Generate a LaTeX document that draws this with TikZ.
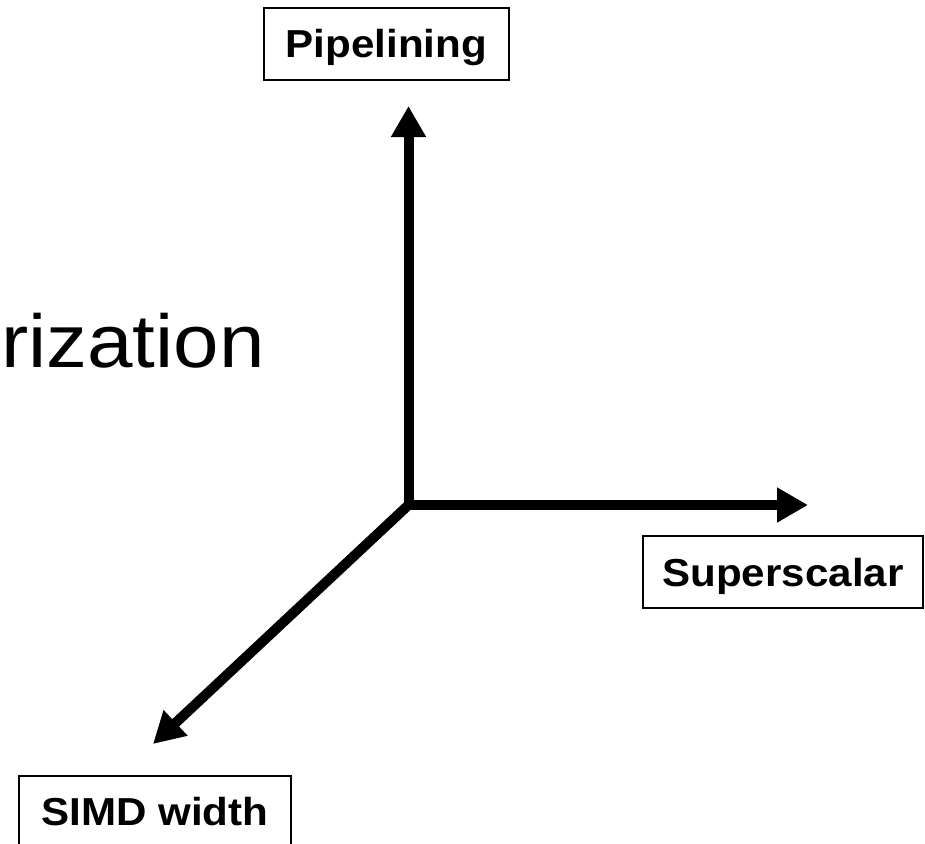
\documentclass[tikz,border=0pt]{standalone}
\usepackage{fontspec}
\setmainfont{Liberation Sans}
\newfontfamily\lblfont[FakeStretch=1.08]{Liberation Sans}
\newfontfamily\ttlfont[FakeStretch=1.09]{Liberation Sans}
\usetikzlibrary{arrows.meta}
\begin{document}
\begin{tikzpicture}[x=1pt,y=-1pt,
  axislabel/.style={draw=black, line width=2pt, inner sep=0pt,
    minimum height=72pt, text height=28pt, text depth=0pt,
    font=\lblfont\bfseries\fontsize{39}{46}\selectfont},
  axis/.style={line width=10pt, -{Triangle[length=31pt,width=33pt]}},
  axis2/.style={line width=10pt, {Triangle[length=31pt,width=33pt]}-{Triangle[length=31pt,width=33pt]}, line join=miter}
]
\clip (0,0) rectangle (925,843);
\node[anchor=base east, inner sep=0pt, font=\ttlfont\fontsize{75}{90}\selectfont] (title) at (265,367) {rization};
\node[axislabel, minimum width=245pt] (pipe) at (386.5,44) {Pipelining};
\node[axislabel, minimum width=280pt] (super) at (783,572) {Superscalar};
\node[axislabel, minimum width=272pt, minimum height=70pt] (simd) at (155,811) {SIMD width};
\coordinate (O) at (408.5,505);
\coordinate (tipP) at (408.5,106);
\coordinate (tipS) at (808,505);
\coordinate (tipD) at (153,744);
\draw[axis2] (tipP) -- (O) -- (tipS);
\draw[axis] (O) -- (tipD);
\end{tikzpicture}
\end{document}
